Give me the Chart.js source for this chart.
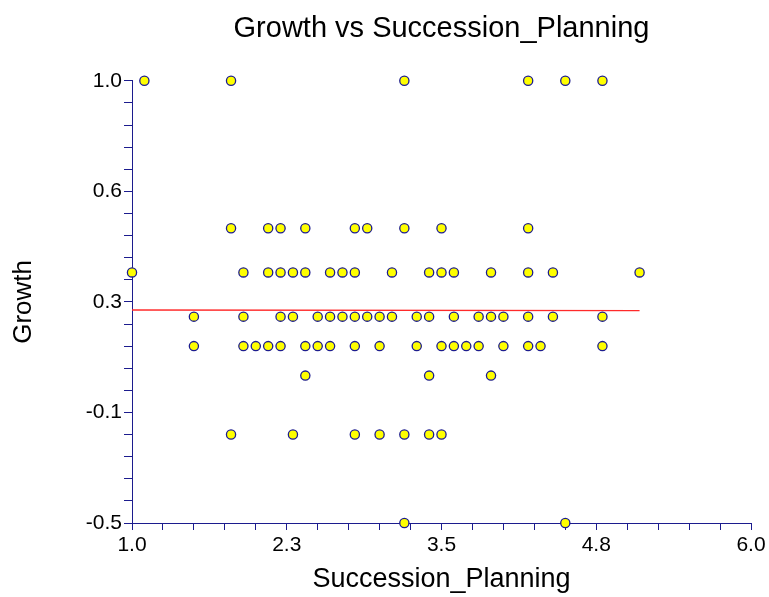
<!DOCTYPE html>
<html>
<head>
<meta charset="utf-8">
<title>Growth vs Succession_Planning</title>
<script src="https://cdn.jsdelivr.net/npm/chart.js@4.4.0/dist/chart.umd.min.js"></script>
<style>
  body { margin: 0; background: #fff; }
</style>
</head>
<body>
<canvas id="chart" width="769" height="597"></canvas>
<script>
const successionPlanning = [
  1.1, 1.8, 3.2, 4.2, 4.5, 4.8,
  1.8, 2.1, 2.2, 2.4, 2.8, 2.9, 3.2, 3.5, 4.2,
  1.0, 1.9, 2.1, 2.2, 2.3, 2.4, 2.6, 2.7, 2.8, 3.1, 3.4, 3.5, 3.6, 3.9, 4.2, 4.4, 5.1,
  1.5, 1.9, 2.2, 2.3, 2.5, 2.6, 2.7, 2.8, 2.9, 3.0, 3.1, 3.3, 3.4, 3.6, 3.8, 3.9, 4.0, 4.2, 4.4, 4.8,
  1.5, 1.9, 2.0, 2.1, 2.2, 2.4, 2.5, 2.6, 2.8, 3.0, 3.3, 3.5, 3.6, 3.7, 3.8, 4.0, 4.2, 4.3, 4.8,
  2.4, 3.4, 3.9,
  1.8, 2.3, 2.8, 3.0, 3.2, 3.4, 3.5,
  3.2, 4.5
];
const growth = [
  1.0, 1.0, 1.0, 1.0, 1.0, 1.0,
  0.5, 0.5, 0.5, 0.5, 0.5, 0.5, 0.5, 0.5, 0.5,
  0.35, 0.35, 0.35, 0.35, 0.35, 0.35, 0.35, 0.35, 0.35, 0.35, 0.35, 0.35, 0.35, 0.35, 0.35, 0.35, 0.35,
  0.2, 0.2, 0.2, 0.2, 0.2, 0.2, 0.2, 0.2, 0.2, 0.2, 0.2, 0.2, 0.2, 0.2, 0.2, 0.2, 0.2, 0.2, 0.2, 0.2,
  0.1, 0.1, 0.1, 0.1, 0.1, 0.1, 0.1, 0.1, 0.1, 0.1, 0.1, 0.1, 0.1, 0.1, 0.1, 0.1, 0.1, 0.1, 0.1,
  0.0, 0.0, 0.0,
  -0.2, -0.2, -0.2, -0.2, -0.2, -0.2, -0.2,
  -0.5, -0.5
];

// fitted line end points
const fitX = [1.0, 5.1];
const fitY = [0.2225, 0.2205];

const xTickLabels = ['1.0', '2.3', '3.5', '4.8', '6.0'];
const yTickLabels = ['-0.5', '-0.1', '0.3', '0.6', '1.0'];
const xRange = [1.0, 6.0];
const yRange = [-0.5, 1.0];
const minorPerMajor = 5;

const axisColor = '#1c1c8e';
const fontFamily = '"Liberation Sans", Arial, sans-serif';

const points = successionPlanning.map((x, i) => ({ x: x, y: growth[i] }));
const fitLine = fitX.map((x, i) => ({ x: x, y: fitY[i] }));

// every minor tick, labels only on the majors
function makeTicks(range, labels) {
  const n = (labels.length - 1) * minorPerMajor;
  const step = (range[1] - range[0]) / n;
  const ticks = [];
  for (let i = 0; i <= n; i++) ticks.push({ value: range[0] + i * step });
  return ticks;
}
function labelFor(labels) {
  return (value, index) => index % minorPerMajor === 0 ? labels[index / minorPerMajor] : '';
}

const ctx = document.getElementById('chart').getContext('2d');
new Chart(ctx, {
  type: 'scatter',
  data: {
    datasets: [{
      type: 'scatter',
      data: points,
      pointRadius: 4.6,
      pointBorderWidth: 1.3,
      pointBackgroundColor: '#ffff00',
      pointBorderColor: axisColor,
      clip: false
    }, {
      type: 'line',
      data: fitLine,
      borderColor: '#ff2a2a',
      borderWidth: 1.3,
      pointRadius: 0,
      fill: false,
      clip: false
    }]
  },
  options: {
    responsive: false,
    animation: false,
    devicePixelRatio: 1,
    layout: { padding: { left: 0, right: 18, top: 0, bottom: 0 } },
    plugins: {
      legend: { display: false },
      tooltip: { enabled: false },
      title: {
        display: true,
        text: 'Growth vs Succession_Planning',
        fullSize: false,
        color: '#000',
        font: { family: fontFamily, size: 29, weight: 'normal' },
        padding: { top: 12, bottom: 34 }
      }
    },
    scales: {
      x: {
        type: 'linear',
        min: xRange[0],
        max: xRange[1],
        afterBuildTicks: s => { s.ticks = makeTicks(xRange, xTickLabels); },
        afterFit: s => { s.height = 74; },
        ticks: {
          autoSkip: false,
          maxRotation: 0,
          padding: 3,
          color: '#000',
          font: { family: fontFamily, size: 21 },
          callback: labelFor(xTickLabels)
        },
        grid: { drawOnChartArea: false, tickLength: 7, color: axisColor, lineWidth: 1 },
        border: { color: axisColor, width: 1 },
        title: {
          display: true,
          text: 'Succession_Planning',
          color: '#000',
          font: { family: fontFamily, size: 27 },
          padding: { top: 0, bottom: 1 }
        }
      },
      y: {
        type: 'linear',
        min: yRange[0],
        max: yRange[1],
        afterBuildTicks: s => { s.ticks = makeTicks(yRange, yTickLabels); },
        afterFit: s => { s.width = 132; },
        ticks: {
          autoSkip: false,
          padding: 2,
          color: '#000',
          font: { family: fontFamily, size: 21 },
          callback: labelFor(yTickLabels)
        },
        grid: { drawOnChartArea: false, tickLength: 8, color: axisColor, lineWidth: 1 },
        border: { color: axisColor, width: 1 },
        title: {
          display: true,
          text: 'Growth',
          color: '#000',
          font: { family: fontFamily, size: 26 },
          padding: { top: 8, bottom: 0 }
        }
      }
    }
  }
});
</script>
</body>
</html>
